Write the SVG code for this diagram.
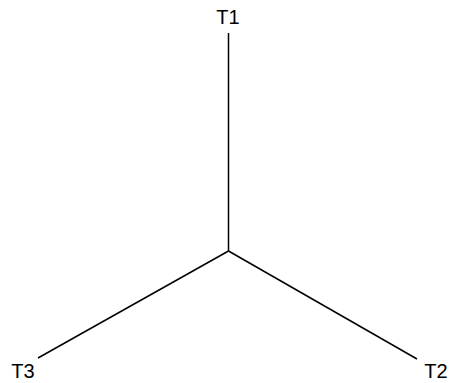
<svg xmlns="http://www.w3.org/2000/svg" width="449" height="383" viewBox="0 0 449 383">
<style>
.lbl{font-family:"Liberation Sans",Arial,sans-serif;font-size:20px;fill:#000;text-anchor:middle}
.edge{stroke:#000;stroke-width:1.5;fill:none}
</style>
<rect width="449" height="383" fill="#fff"/>
<g id="connectors">
<line class="edge" x1="228.5" y1="33" x2="228.5" y2="251"/>
<line class="edge" x1="228.5" y1="251" x2="417" y2="359"/>
<line class="edge" x1="228.5" y1="251" x2="38" y2="358"/>
</g>
<g id="T1"><text class="lbl" x="228" y="24">T1</text></g>
<g id="T2"><text class="lbl" x="436" y="378">T2</text></g>
<g id="T3"><text class="lbl" x="23" y="378">T3</text></g>
</svg>
